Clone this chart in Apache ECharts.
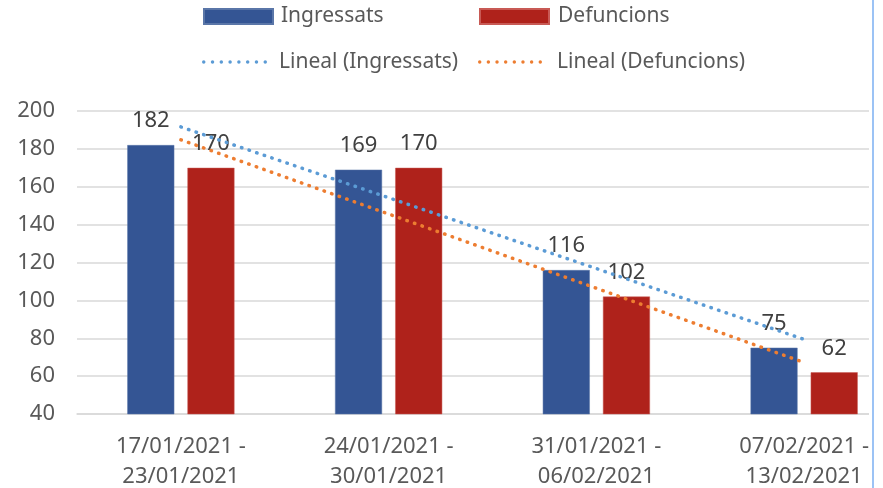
<!DOCTYPE html>
<html>
<head>
<meta charset="utf-8">
<script src="https://cdn.jsdelivr.net/npm/echarts@6/dist/echarts.min.js"></script>
<style>
  html, body { margin: 0; padding: 0; background: #fff; overflow: hidden; }
  #main { width: 883px; height: 488px; }
</style>
</head>
<body>
<div id="main"></div>
<script>
var chart = echarts.init(document.getElementById('main'));

// weeks
var categories = [
    '17/01/2021 -\n23/01/2021',
    '24/01/2021 -\n30/01/2021',
    '31/01/2021 -\n06/02/2021',
    '07/02/2021 -\n13/02/2021'
];
var ingressats = [182, 169, 116, 75];
var defuncions = [170, 170, 102, 62];
// dotted trend lines
var linealIngressats = [191.6, 154.2, 116.8, 79.4];
var linealDefuncions = [184.8, 145.6, 106.4, 67.2];
var yTicks = { min: 40, max: 200, interval: 20 };

var font = 'Noto Sans';
var txt = '#595959';

// row of 8 small dots for the trend legend
var dots = 'path://';
for (var i = 0; i < 8; i++) {
    var cx = 1.75 + i * 8.8;
    dots += 'M' + (cx - 1.75) + ',1.75 a1.75,1.75 0 1,0 3.5,0 a1.75,1.75 0 1,0 -3.5,0 ';
}

function legendAt(name, left, top, icon, w, h, pad) {
    return {
        data: [{ name: name, icon: icon }],
        left: left,
        top: top,
        padding: 0,
        itemWidth: w,
        itemHeight: h,
        itemGap: 0,
        textStyle: { fontFamily: font, fontSize: 21, lineHeight: 24, color: txt, padding: [0, 0, 0, pad] },
        selectedMode: false
    };
}

var option = {
    backgroundColor: '#fff',
    animation: false,
    legend: [
        legendAt('Ingressats', 203, 4.5, 'rect', 69, 15, 3),
        legendAt('Defuncions', 479, 4.5, 'rect', 69, 15, 4),
        legendAt('Lineal (Ingressats)', 202, 50, dots, 65, 3.5, 7),
        legendAt('Lineal (Defuncions)', 478, 50, dots, 64, 3.5, 10)
    ],
    grid: {
        left: 77,
        top: 111,
        width: 831,
        bottom: 74,
        outerBoundsMode: 'none',
        containLabel: false
    },
    xAxis: {
        type: 'category',
        data: categories,
        axisLine: { lineStyle: { color: '#d9d9d9', width: 1.5 } },
        axisTick: { show: false },
        axisLabel: {
            fontFamily: font,
            fontSize: 22,
            color: txt,
            lineHeight: 30,
            margin: 18,
            interval: 0
        }
    },
    yAxis: {
        type: 'value',
        min: yTicks.min,
        max: yTicks.max,
        interval: yTicks.interval,
        axisLine: { show: false },
        axisTick: { show: false },
        splitLine: { lineStyle: { color: '#d9d9d9', width: 1.5 } },
        axisLabel: {
            fontFamily: font,
            fontSize: 22,
            color: txt,
            margin: 22
        }
    },
    series: [{
        name: 'Ingressats',
        type: 'bar',
        data: ingressats,
        barWidth: 47,
        barGap: '28%',
        itemStyle: { color: '#345594', borderColor: '#5a76a8', borderWidth: 0.5 },
        label: {
            show: true,
            position: 'top',
            distance: 13,
            fontFamily: font,
            fontSize: 22,
            color: '#404040'
        },
        z: 2
    }, {
        name: 'Defuncions',
        type: 'bar',
        data: defuncions,
        barWidth: 47,
        itemStyle: { color: '#af221b', borderColor: '#c85a55', borderWidth: 0.5 },
        label: {
            show: true,
            position: 'top',
            distance: 13,
            fontFamily: font,
            fontSize: 22,
            color: '#404040'
        },
        z: 2
    }, {
        name: 'Lineal (Ingressats)',
        type: 'line',
        data: linealIngressats,
        symbol: 'none',
        itemStyle: { color: '#5b9bd5' },
        lineStyle: { color: '#5b9bd5', width: 3.5, type: [0.5, 7.5], cap: 'round' },
        z: 5
    }, {
        name: 'Lineal (Defuncions)',
        type: 'line',
        data: linealDefuncions,
        symbol: 'none',
        itemStyle: { color: '#ed7d31' },
        lineStyle: { color: '#ed7d31', width: 3.5, type: [0.5, 7.5], cap: 'round' },
        z: 5
    }],
    graphic: [{
        type: 'rect',
        shape: { x: 869, y: 0, width: 14, height: 488 },
        style: { fill: '#fff' },
        z: 100
    }, {
        type: 'line',
        shape: { x1: 873, y1: 0, x2: 873, y2: 488 },
        style: { stroke: '#9cc3f5', lineWidth: 2 },
        z: 101
    }]
};

chart.setOption(option);
</script>
</body>
</html>
